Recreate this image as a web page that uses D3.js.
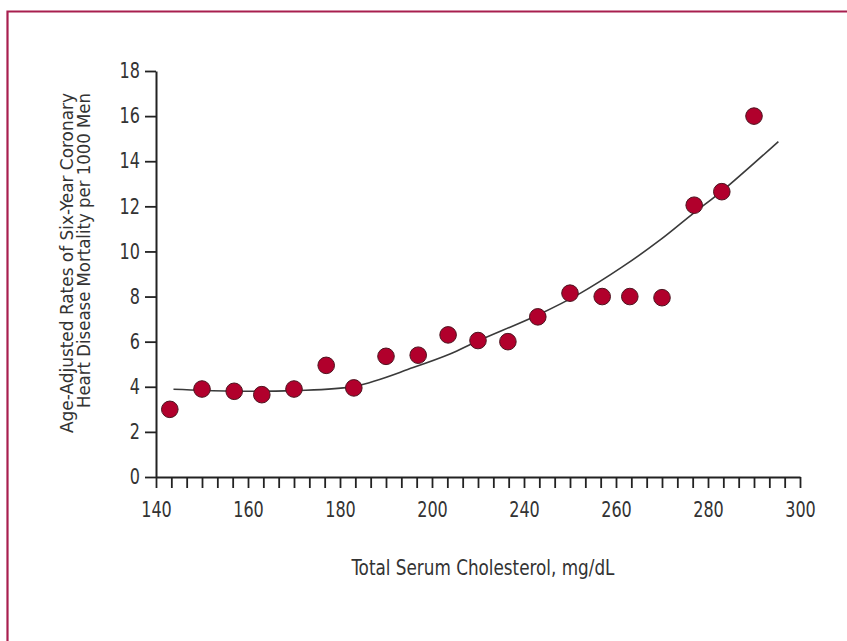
<!DOCTYPE html>
<html>
<head>
<meta charset="utf-8">
<script src="https://cdn.jsdelivr.net/npm/d3@7"></script>
<style>
  html, body { margin: 0; padding: 0; background: #ffffff; }
  svg { display: block; }
  .tick text, .label { font-family: "Liberation Sans Narrow", "DejaVu Sans Condensed", "Arial Narrow", sans-serif; fill: #333; }
</style>
</head>
<body>
<svg id="chart" width="847" height="641"></svg>
<script>
// Axis labels (the 200–240 interval is drawn the same width as the others)
const xTickLabels = [140, 160, 180, 200, 240, 260, 280, 300];
const yTickValues = [0, 2, 4, 6, 8, 10, 12, 14, 16, 18];

// Cholesterol group midpoints (mg/dL) and observed mortality per 1000 men
const cholesterol = [143, 150, 157, 163, 170, 177, 183, 190, 197, 207,
                     220, 233, 243, 250, 257, 263, 270, 277, 283, 290];
const mortality   = [3.0, 3.9, 3.8, 3.65, 3.9, 4.95, 3.95, 5.35, 5.4, 6.3,
                     6.05, 6.0, 7.1, 8.15, 8.0, 8.0, 7.95, 12.05, 12.65, 16.0];

// Fitted trend curve
const trendCholesterol = [143.8, 156.1, 169.8, 183.3, 195.9, 207.8, 219.5, 243.5, 252.2, 261.2, 269.6, 276.8, 283.3, 295.3];
const trendRate        = [3.89, 3.81, 3.83, 4.03, 4.85, 5.45, 6.01, 7.23, 8.14, 9.29, 10.51, 11.69, 12.72, 14.87];

const svg = d3.select("#chart");
const W = 847, H = 641;

// outer frame (top and left rules)
svg.append("path")
  .attr("d", `M7.5,${H} V11.5 H${W}`)
  .attr("fill", "none")
  .attr("stroke", "#a81f4f")
  .attr("stroke-width", 2.2);

const plotLeft = 156, plotRight = 800, plotTop = 71, plotBottom = 477;

// Piecewise-linear x scale: each labelled interval gets equal width
const step = (plotRight - plotLeft) / (xTickLabels.length - 1);
const x = d3.scaleLinear()
  .domain(xTickLabels)
  .range(xTickLabels.map((_, i) => plotLeft + i * step));

const y = d3.scaleLinear().domain([0, 18]).range([plotBottom, plotTop]);

// six minor divisions per labelled interval
const xTicks = [];
for (let i = 0; i < xTickLabels.length - 1; i++) {
  const a = xTickLabels[i], b = xTickLabels[i + 1];
  for (let j = 0; j < 6; j++) xTicks.push(a + (b - a) * j / 6);
}
xTicks.push(xTickLabels[xTickLabels.length - 1]);
const majorSet = new Set(xTickLabels);

const xAxis = svg.append("g")
  .attr("transform", `translate(0,${plotBottom})`)
  .call(d3.axisBottom(x)
    .tickValues(xTicks)
    .tickSize(11)
    .tickSizeOuter(0)
    .tickPadding(14)
    .tickFormat(d => majorSet.has(d) ? d : ""));

const yAxis = svg.append("g")
  .attr("transform", `translate(${plotLeft},0)`)
  .call(d3.axisLeft(y)
    .tickValues(yTickValues)
    .tickSize(11)
    .tickSizeOuter(0)
    .tickPadding(5));

[xAxis, yAxis].forEach(g => {
  g.select(".domain").attr("stroke", "#222").attr("stroke-width", 2);
  g.selectAll(".tick line").attr("stroke", "#222").attr("stroke-width", 1.8);
  g.selectAll(".tick text")
    .attr("font-size", 21)
    .attr("fill", "#333")
    .each(function () {
      const t = d3.select(this).text();
      if (t) d3.select(this).attr("textLength", t.length * 10.2).attr("lengthAdjust", "spacingAndGlyphs");
    });
});

// trend curve
const pts = trendCholesterol.map((c, i) => [c, trendRate[i]]);
svg.append("path")
  .datum(pts)
  .attr("fill", "none")
  .attr("stroke", "#3a3a3a")
  .attr("stroke-width", 1.6)
  .attr("d", d3.line()
    .x(d => x(d[0]))
    .y(d => y(d[1]))
    .curve(d3.curveCatmullRom.alpha(0.5)));

// observed points
svg.append("g")
  .selectAll("circle")
  .data(cholesterol.map((c, i) => ({ c, m: mortality[i] })))
  .join("circle")
  .attr("cx", d => x(d.c))
  .attr("cy", d => y(d.m))
  .attr("r", 8.3)
  .attr("fill", "#b1002c")
  .attr("stroke", "#4d1420")
  .attr("stroke-width", 1);

// axis titles
svg.append("text")
  .attr("class", "label")
  .attr("x", 483)
  .attr("y", 575)
  .attr("text-anchor", "middle")
  .attr("font-size", 20.5)
  .attr("textLength", 263)
  .attr("lengthAdjust", "spacingAndGlyphs")
  .text("Total Serum Cholesterol, mg/dL");

const yTitle = svg.append("text")
  .attr("class", "label")
  .attr("transform", "rotate(-90)")
  .attr("text-anchor", "end")
  .attr("font-size", 17);
yTitle.append("tspan").attr("x", -93).attr("y", 73)
  .attr("textLength", 340).attr("lengthAdjust", "spacingAndGlyphs")
  .text("Age-Adjusted Rates of Six-Year Coronary");
yTitle.append("tspan").attr("x", -93).attr("y", 89.5)
  .attr("textLength", 315).attr("lengthAdjust", "spacingAndGlyphs")
  .text("Heart Disease Mortality per 1000 Men");
</script>
</body>
</html>
